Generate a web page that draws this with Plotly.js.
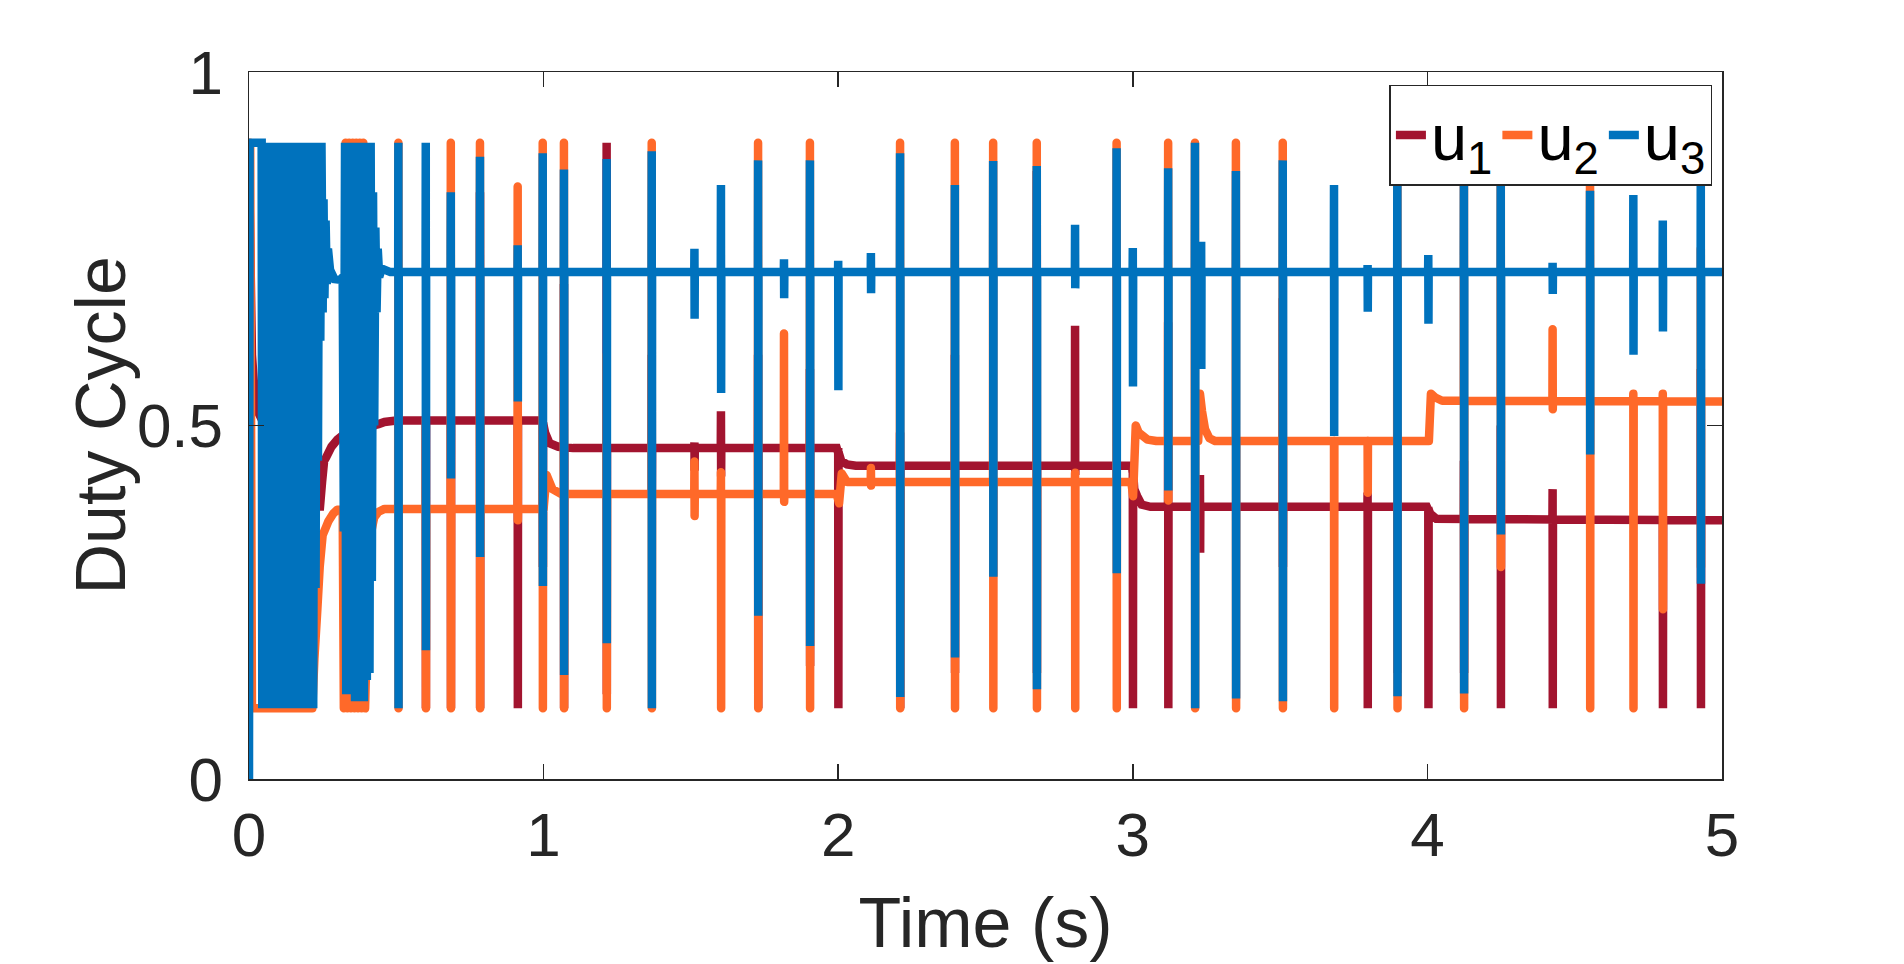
<!DOCTYPE html>
<html>
<head>
<meta charset="utf-8">
<script src="https://cdn.plot.ly/plotly-3.0.1.min.js"></script>
<style>
html,body{margin:0;padding:0;background:#fff;}
#chart{width:1904px;height:964px;}
#chart .scatterlayer .trace:nth-child(2) path.js-line{stroke-linecap:round;stroke-linejoin:round;}
</style>
</head>
<body>
<div id="chart"></div>
<script>
// ---- Data ----
const xTickVals = [0, 1, 2, 3, 4, 5];
const xTickText = ['0', '1', '2', '3', '4', '5'];
const yTickVals = [0, 0.5, 1];
const yTickText = ['0', '0.5', '1'];
const seriesNames = ['u<sub>1</sub>', 'u<sub>2</sub>', 'u<sub>3</sub>'];
const xTitle = 'Time (s)';
const yTitle = 'Duty Cycle';

// u1 slow trajectory
const u1BaseT = [0, 0.002, 0.010, 0.020, 0.030, 0.045, 0.225, 0.228, 0.235, 0.240, 0.248, 0.255, 0.262, 0.280, 0.300, 0.315, 0.400, 0.405, 0.410, 0.415, 0.420, 0.440, 0.460, 0.500, 0.995, 1.005, 1.020, 1.050, 1.100, 1.995, 2.010, 2.030, 2.060, 2.998, 3.005, 3.015, 3.030, 3.060, 3.998, 4.010, 4.030, 5.0];
const u1BaseV = [0.9, 0.82, 0.6, 0.54, 0.52, 0.507, 0.507, 0.45, 0.40, 0.38, 0.42, 0.45, 0.455, 0.47, 0.48, 0.485, 0.485, 0.45, 0.52, 0.49, 0.5, 0.502, 0.505, 0.507, 0.507, 0.49, 0.475, 0.47, 0.468, 0.468, 0.45, 0.445, 0.443, 0.443, 0.41, 0.40, 0.388, 0.385, 0.385, 0.375, 0.368, 0.366];
// u1 spikes
const u1SpikeT  = [0.600, 0.685, 0.784, 0.912, 0.997, 1.069, 1.214, 1.367, 1.512, 1.602, 1.728, 1.904, 2.000, 2.210, 2.396, 2.674, 2.804, 3.000, 3.120, 3.228, 3.509, 3.797, 3.898, 4.003, 4.124, 4.249, 4.425, 4.799, 4.928];
const u1SpikeHi = [0.507, 0.507, 0.83, 0.507, 0.507, 0.7, 0.9, 0.6, 0.476, 0.52, 0.6, 0.58, 0.468, 0.49, 0.6, 0.86, 0.641, 0.443, 0.646, 0.43, 0.68, 0.405, 0.39, 0.385, 0.45, 0.5, 0.41, 0.366, 0.58];
const u1SpikeLo = [0.1, 0.1, 0.1, 0.1, 0.3, 0.1, 0.12, 0.4, 0.436, 0.428, 0.1, 0.16, 0.1, 0.1, 0.15, 0.15, 0.43, 0.1, 0.1, 0.32, 0.3, 0.1, 0.15, 0.1, 0.15, 0.1, 0.1, 0.1, 0.1];

// u2 slow trajectory (incl. start-up oscillation)
const u2BaseT = [0, 0.004, 0.010, 0.215, 0.222, 0.232, 0.240, 0.250, 0.260, 0.270, 0.285, 0.300, 0.318, 0.322, 0.328, 0.334, 0.340, 0.346, 0.352, 0.358, 0.364, 0.370, 0.376, 0.382, 0.388, 0.394, 0.400, 0.405, 0.410, 0.415, 0.425, 0.440, 0.460, 1.000, 1.010, 1.030, 1.060, 1.995, 2.003, 2.012, 2.030, 2.995, 3.001, 3.010, 3.020, 3.050, 3.080, 3.222, 3.228, 3.235, 3.245, 3.260, 3.280, 3.995, 4.005, 4.012, 4.025, 4.050, 5.0];
const u2BaseV = [0.9, 0.9, 0.1, 0.1, 0.17, 0.24, 0.30, 0.345, 0.355, 0.365, 0.375, 0.381, 0.382, 0.1, 0.9, 0.1, 0.9, 0.1, 0.9, 0.1, 0.9, 0.1, 0.9, 0.1, 0.9, 0.1, 0.2, 0.26, 0.33, 0.35, 0.37, 0.378, 0.382, 0.382, 0.43, 0.41, 0.403, 0.403, 0.39, 0.432, 0.42, 0.42, 0.40, 0.50, 0.49, 0.48, 0.478, 0.478, 0.545, 0.52, 0.495, 0.482, 0.478, 0.478, 0.478, 0.545, 0.54, 0.535, 0.534];
const u2SpikeT  = [0.507, 0.600, 0.685, 0.784, 0.912, 0.997, 1.069, 1.214, 1.367, 1.512, 1.602, 1.728, 1.816, 1.904, 2.111, 2.210, 2.396, 2.526, 2.674, 2.804, 2.945, 3.120, 3.211, 3.350, 3.509, 3.683, 3.797, 3.898, 4.124, 4.249, 4.425, 4.552, 4.699, 4.799, 4.928];
const u2SpikeHi = [0.9, 0.51, 0.9, 0.9, 0.838, 0.9, 0.9, 0.6, 0.9, 0.449, 0.434, 0.9, 0.63, 0.9, 0.44, 0.9, 0.9, 0.9, 0.9, 0.433, 0.9, 0.9, 0.9, 0.9, 0.9, 0.478, 0.478, 0.9, 0.9, 0.9, 0.636, 0.9, 0.545, 0.545, 0.75];
const u2SpikeLo = [0.1, 0.1, 0.1, 0.1, 0.366, 0.1, 0.1, 0.1, 0.1, 0.372, 0.1, 0.1, 0.392, 0.1, 0.415, 0.1, 0.1, 0.1, 0.1, 0.1, 0.1, 0.394, 0.1, 0.1, 0.1, 0.1, 0.405, 0.1, 0.1, 0.3, 0.523, 0.1, 0.1, 0.24, 0.3];

// u3 slow trajectory (incl. start-up oscillation bursts)
const u3BaseT = [0, 0.002, 0.043, 0.045, 0.053, 0.061, 0.069, 0.077, 0.085, 0.093, 0.101, 0.109, 0.117, 0.125, 0.133, 0.141, 0.149, 0.157, 0.165, 0.173, 0.181, 0.189, 0.197, 0.205, 0.213, 0.218, 0.222, 0.226, 0.230, 0.234, 0.238, 0.242, 0.246, 0.250, 0.253, 0.256, 0.260, 0.264, 0.268, 0.275, 0.290, 0.310, 0.318, 0.322, 0.326, 0.330, 0.335, 0.340, 0.345, 0.350, 0.355, 0.360, 0.365, 0.370, 0.375, 0.380, 0.385, 0.390, 0.395, 0.400, 0.405, 0.409, 0.413, 0.417, 0.421, 0.425, 0.429, 0.433, 0.437, 0.442, 0.450, 0.480, 5.0];
const u3BaseV = [0, 0.9, 0.9, 0.1, 0.9, 0.1, 0.9, 0.1, 0.9, 0.1, 0.9, 0.1, 0.9, 0.1, 0.9, 0.1, 0.9, 0.1, 0.9, 0.1, 0.9, 0.1, 0.9, 0.1, 0.9, 0.1, 0.9, 0.27, 0.9, 0.45, 0.9, 0.62, 0.9, 0.66, 0.82, 0.68, 0.79, 0.70, 0.75, 0.72, 0.707, 0.706, 0.71, 0.35, 0.9, 0.12, 0.9, 0.12, 0.9, 0.13, 0.9, 0.11, 0.9, 0.11, 0.9, 0.11, 0.9, 0.11, 0.9, 0.14, 0.9, 0.15, 0.9, 0.28, 0.83, 0.5, 0.78, 0.66, 0.75, 0.71, 0.722, 0.717, 0.717];
const u3SpikeT  = [0.507, 0.600, 0.685, 0.784, 0.912, 0.997, 1.069, 1.214, 1.367, 1.512, 1.602, 1.728, 1.816, 1.904, 2.000, 2.111, 2.210, 2.396, 2.526, 2.674, 2.804, 2.945, 3.000, 3.120, 3.211, 3.232, 3.350, 3.509, 3.683, 3.797, 3.898, 4.003, 4.124, 4.249, 4.425, 4.552, 4.699, 4.799, 4.928];
const u3SpikeHi = [0.9, 0.9, 0.83, 0.88, 0.755, 0.885, 0.862, 0.877, 0.888, 0.75, 0.84, 0.875, 0.735, 0.875, 0.733, 0.744, 0.885, 0.84, 0.874, 0.867, 0.784, 0.892, 0.751, 0.864, 0.9, 0.76, 0.86, 0.875, 0.84, 0.727, 0.9, 0.741, 0.9, 0.88, 0.73, 0.832, 0.826, 0.79, 0.88];
const u3SpikeLo = [0.1, 0.182, 0.425, 0.314, 0.534, 0.273, 0.147, 0.192, 0.1, 0.651, 0.546, 0.231, 0.68, 0.188, 0.55, 0.687, 0.116, 0.172, 0.286, 0.127, 0.694, 0.291, 0.555, 0.408, 0.1, 0.58, 0.114, 0.11, 0.485, 0.661, 0.117, 0.644, 0.121, 0.346, 0.686, 0.459, 0.6, 0.633, 0.276];

// ---- Build traces ----
function baseAt(T, V, t) {
  for (let i = 0; i < T.length - 1; i++) {
    if (t >= T[i] && t <= T[i + 1]) {
      const f = (t - T[i]) / (T[i + 1] - T[i]);
      return V[i] + f * (V[i + 1] - V[i]);
    }
  }
  return V[V.length - 1];
}
function build(T, V, sT, sHi, sLo) {
  const pts = T.map((t, i) => [t, V[i]]);
  const e = 0.0006;
  sT.forEach((t, i) => {
    const b = baseAt(T, V, t);
    pts.push([t - e, b], [t, sHi[i]], [t + e, sLo[i]], [t + 2 * e, b]);
  });
  pts.sort((a, b) => a[0] - b[0]);
  return { x: pts.map(p => p[0]), y: pts.map(p => p[1]) };
}
const colors = ['#A2142F', '#FF6929', '#0072BD'];
const d1 = build(u1BaseT, u1BaseV, u1SpikeT, u1SpikeHi, u1SpikeLo);
const d2 = build(u2BaseT, u2BaseV, u2SpikeT, u2SpikeHi, u2SpikeLo);
const d3 = build(u3BaseT, u3BaseV, u3SpikeT, u3SpikeHi, u3SpikeLo);
const traces = [d1, d2, d3].map((d, i) => ({
  x: d.x, y: d.y, type: 'scatter', mode: 'lines', name: seriesNames[i],
  line: { color: colors[i], width: 8.5, simplify: false }
}));

const FONT = 'Liberation Sans, Arial, Helvetica, sans-serif';
const axisCommon = {
  showline: true, linecolor: '#262626', linewidth: 1.5, mirror: 'ticks',
  ticks: 'inside', ticklen: 15, tickwidth: 1.5, tickcolor: '#262626',
  showgrid: false, zeroline: false,
  tickfont: { family: FONT, size: 62, color: '#262626' }
};
const layout = {
  width: 1904, height: 964,
  paper_bgcolor: '#fff', plot_bgcolor: '#fff',
  margin: { l: 249, r: 182, t: 72, b: 185 },
  showlegend: true,
  xaxis: Object.assign({}, axisCommon, {
    range: [0, 5], tickvals: xTickVals, ticktext: xTickText,
    ticklabelstandoff: 1,
    title: { text: xTitle, font: { family: FONT, size: 70, color: '#262626' }, standoff: 30 }
  }),
  yaxis: Object.assign({}, axisCommon, {
    range: [0, 1], tickvals: yTickVals, ticktext: yTickText,
    ticklabelstandoff: 12
  }),
  annotations: [{
    text: yTitle, xref: 'paper', yref: 'paper', x: -0.1005, y: 0.5,
    xanchor: 'center', yanchor: 'middle', textangle: -90, showarrow: false,
    font: { family: FONT, size: 70, color: '#262626' }
  }],
  legend: {
    orientation: 'h', x: 0.9935, xanchor: 'right', y: 0.982, yanchor: 'top',
    bgcolor: '#fff', bordercolor: '#262626', borderwidth: 1.5,
    font: { family: FONT, size: 65, color: '#000' },
    itemwidth: 30, tracegroupgap: 0
  }
};
Plotly.newPlot('chart', traces, layout, { displayModeBar: false, staticPlot: true });
</script>
</body>
</html>
